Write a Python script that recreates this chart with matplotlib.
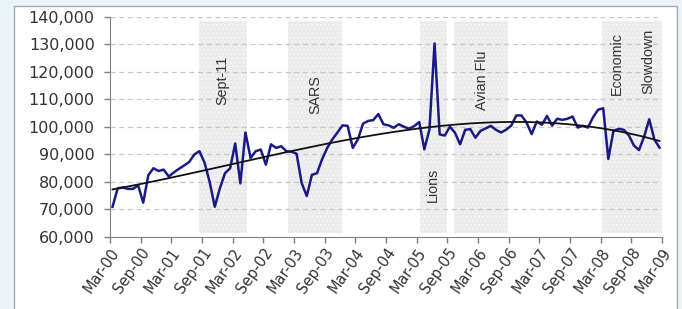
import numpy as np
import matplotlib.pyplot as plt
from matplotlib.patches import Rectangle

# monthly values Mar-00 .. Feb-09
values = [
    71000, 77700, 78000, 77500, 77500, 78800, 72500, 82500, 85000, 84000,
    84500, 82000, 83500, 84800, 86000, 87300, 90000, 91200, 87000, 80000,
    71000, 77700, 83200, 85000, 94000, 79500, 98000, 88700, 91200, 91800,
    86300, 93700, 92400, 93000, 91200, 91000, 90300, 79600, 74900, 82600,
    83200, 88300, 92400, 95500, 98000, 100600, 100400, 92400, 95500, 101200,
    102200, 102500, 104700, 101000, 100600, 99700, 101000, 100100, 99400, 100300,
    101800, 91900, 99100, 130400, 97300, 96900, 100100, 97900, 93700, 99000,
    99200, 96100, 98600, 99500, 100400, 99000, 98000, 99000, 100500, 104200,
    104200, 101600, 97400, 102000, 100800, 104000, 100500, 103000, 102600, 103000,
    103800, 99800, 100400, 99800, 103500, 106300, 106800, 88400, 98600, 99300,
    99000, 97000, 93300, 91600, 96500, 102800, 95500, 92500,
]
tick_labels = ['Mar-00', 'Sep-00', 'Mar-01', 'Sep-01', 'Mar-02', 'Sep-02', 'Mar-03',
               'Sep-03', 'Mar-04', 'Sep-04', 'Mar-05', 'Sep-05', 'Mar-06', 'Sep-06',
               'Mar-07', 'Sep-07', 'Mar-08', 'Sep-08', 'Mar-09']

# event periods (month index)
event_start = [16.9, 34.3, 60.1, 66.8, 95.8]
event_end = [26.3, 44.9, 65.4, 77.4, 107.5]

x = np.arange(len(values))
coef = np.polyfit(x, values, 3)
trend = np.polyval(coef, x)

fig = plt.figure(figsize=(6.82, 3.09), dpi=100)
fig.patch.set_facecolor('#eaf4f8')
frame = Rectangle((14 / 682, -0.05), 663 / 682, 1.05 - 6 / 309,
                  transform=fig.transFigure, facecolor='white',
                  edgecolor='#a8a8a8', linewidth=1, zorder=-10)
fig.patches.append(frame)
ax = fig.add_axes([110 / 682, 1 - 237 / 309, 552 / 682, 220 / 309])
ax.set_facecolor('none')

for s, e in zip(event_start, event_end):
    ax.axvspan(s, e, ymin=0.019, ymax=0.981, facecolor='#ebebeb',
               edgecolor='#f6f6f6', hatch='....', linewidth=0, zorder=0)

ax.plot(x, values, color='#1a1a86', linewidth=1.8, zorder=3)
ax.plot(x, trend, color='#111111', linewidth=1.3, zorder=4)

txt = dict(rotation=90, ha='center', va='center', fontsize=10.3,
           family='Liberation Sans', color='#333333', zorder=5)
ax.text(21.4, 117100, 'Sept-11', **txt)
ax.text(39.6, 111600, 'SARS', **txt)
ax.text(62.7, 78900, 'Lions', **txt)
ax.text(72.3, 117100, 'Avian Flu', **txt)
ax.text(98.7, 122900, 'Economic', **txt)
ax.text(104.8, 123700, 'Slowdown', **txt)

ax.set_ylim(60000, 140000)
ax.set_xlim(-0.5, 107.5)
ax.set_yticks(range(60000, 140001, 10000))
ax.set_yticklabels(['{:,}'.format(v) for v in range(60000, 140001, 10000)],
                   fontsize=11.5, color='#333333')
ax.set_xticks(np.arange(len(tick_labels)) * 6 - 0.5)
ax.set_xticklabels(tick_labels, rotation=55, ha='right', va='top',
                   rotation_mode='anchor', fontsize=10.5, color='#333333')
ax.tick_params(axis='both', direction='out', length=4, color='#808080', width=1)
ax.tick_params(axis='y', pad=7)
ax.tick_params(axis='x', pad=2)

for v in range(70000, 140001, 10000):
    ax.axhline(v, color='#c8c8c8', linestyle=(0, (4, 3)), linewidth=0.9, zorder=1)

for side in ['top', 'right']:
    ax.spines[side].set_visible(False)
for side in ['left', 'bottom']:
    ax.spines[side].set_color('#808080')

fig.savefig('out.png', dpi=100, facecolor=fig.get_facecolor())
